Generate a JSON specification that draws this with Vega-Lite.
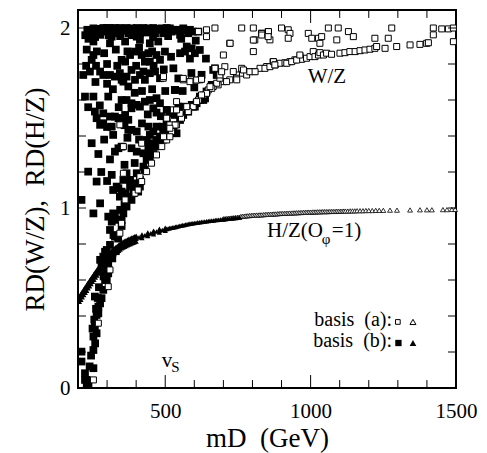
{
"$schema": "https://vega.github.io/schema/vega-lite/v6.json",
"width": 378, "height": 378,
"autosize": {"type": "none"},
"padding": {"left": 78, "top": 10, "right": 31, "bottom": 65},
"background": "white",
"config": {
 "view": {"stroke": "black", "strokeWidth": 2},
 "text": {"font": "Liberation Serif", "color": "black"}
},
"datasets": {
 "xminor": [{"m":300},{"m":400},{"m":600},{"m":700},{"m":800},{"m":900},{"m":1100},{"m":1200},{"m":1300},{"m":1400}],
 "xmajor": [{"m":500},{"m":1000}],
 "yticks": [{"r":0.2},{"r":0.4},{"r":0.6},{"r":0.8},{"r":1.0},{"r":1.2},{"r":1.4},{"r":1.6},{"r":1.8},{"r":2.0}],
 "filled": [
  {"m":247,"r":1.971},{"m":264,"r":1.98},{"m":287,"r":2.0},{"m":310,"r":2.0},{"m":327,"r":2.0},{"m":350,"r":1.99},{"m":367,"r":2.0},{"m":384,"r":1.998},{"m":402,"r":2.0},{"m":425,"r":2.0},{"m":442,"r":1.998},{"m":459,"r":2.0},{"m":482,"r":1.99},{"m":505,"r":2.0},{"m":522,"r":1.98},{"m":539,"r":1.99},{"m":562,"r":1.998},{"m":579,"r":1.971},{"m":276,"r":1.962},{"m":333,"r":1.971},{"m":413,"r":1.971},{"m":465,"r":1.971},{"m":493,"r":1.971},{"m":299,"r":1.98},{"m":373,"r":1.971},{"m":436,"r":1.975},{"m":551,"r":1.962},{"m":596,"r":1.98},{"m":614,"r":1.98},{"m":299,"r":2.0},{"m":344,"r":2.0},{"m":390,"r":1.98},{"m":453,"r":1.986},{"m":516,"r":1.998},{"m":253,"r":1.998},{"m":321,"r":1.993},{"m":419,"r":1.993},
  {"m":232,"r":1.99},{"m":270,"r":1.995},{"m":282,"r":1.985},{"m":293,"r":1.99},{"m":315,"r":1.985},{"m":338,"r":1.99},{"m":356,"r":1.985},{"m":361,"r":1.995},{"m":378,"r":1.99},{"m":396,"r":1.99},{"m":408,"r":1.985},{"m":430,"r":1.99},{"m":448,"r":1.99},{"m":470,"r":1.995},{"m":488,"r":1.998},{"m":498,"r":1.985},{"m":528,"r":1.99},{"m":545,"r":1.985},{"m":568,"r":1.985},{"m":585,"r":1.99},{"m":259,"r":1.95},{"m":305,"r":1.96},{"m":345,"r":1.955},{"m":385,"r":1.96},{"m":458,"r":1.95},{"m":510,"r":1.955},{"m":555,"r":1.94},{"m":605,"r":1.93},{"m":236,"r":1.94},{"m":225,"r":1.96},
  {"m":253,"r":1.925},{"m":310,"r":1.915},{"m":362,"r":1.925},{"m":413,"r":1.934},{"m":447,"r":1.915},{"m":476,"r":1.925},{"m":574,"r":1.897},{"m":591,"r":1.887},{"m":619,"r":1.878},{"m":316,"r":1.952},{"m":402,"r":1.952},
  {"m":253,"r":1.85},{"m":247,"r":1.823},{"m":379,"r":1.85},{"m":396,"r":1.869},{"m":419,"r":1.85},{"m":442,"r":1.86},{"m":470,"r":1.85},{"m":482,"r":1.823},{"m":350,"r":1.823},{"m":362,"r":1.813},{"m":447,"r":1.813},{"m":551,"r":1.86},{"m":602,"r":1.86},{"m":568,"r":1.869},{"m":499,"r":1.869},{"m":430,"r":1.813},
  {"m":230,"r":1.88},{"m":265,"r":1.87},{"m":290,"r":1.86},{"m":330,"r":1.88},{"m":370,"r":1.87},{"m":410,"r":1.89},{"m":455,"r":1.87},{"m":520,"r":1.84},{"m":585,"r":1.83},{"m":640,"r":1.83},{"m":228,"r":1.79},{"m":262,"r":1.79},{"m":300,"r":1.8},{"m":335,"r":1.79},{"m":400,"r":1.79},{"m":460,"r":1.79},{"m":495,"r":1.77},{"m":545,"r":1.72},{"m":590,"r":1.75},{"m":625,"r":1.74},{"m":260,"r":1.7},{"m":300,"r":1.69},{"m":320,"r":1.66},{"m":395,"r":1.64},{"m":420,"r":1.65},{"m":455,"r":1.66},{"m":500,"r":1.65},{"m":560,"r":1.65},{"m":600,"r":1.67},{"m":235,"r":1.56},{"m":275,"r":1.57},{"m":340,"r":1.56},{"m":440,"r":1.52},{"m":470,"r":1.53},{"m":485,"r":1.51},{"m":300,"r":1.45},{"m":360,"r":1.46},{"m":420,"r":1.47},{"m":410,"r":1.38},{"m":370,"r":1.39},{"m":290,"r":1.38},{"m":270,"r":1.3},{"m":310,"r":1.27},{"m":360,"r":1.24},{"m":395,"r":1.25},{"m":280,"r":1.2},{"m":300,"r":1.15},{"m":360,"r":1.02},{"m":345,"r":0.99},{"m":350,"r":0.9},{"m":338,"r":0.83},{"m":330,"r":0.76},{"m":318,"r":0.72},{"m":300,"r":0.68},{"m":288,"r":0.62},{"m":272,"r":0.56},{"m":268,"r":0.5},{"m":262,"r":0.44},{"m":256,"r":0.38},{"m":250,"r":0.33},{"m":245,"r":0.18},{"m":240,"r":0.12},
  {"m":241,"r":1.758},{"m":218,"r":1.739},{"m":276,"r":1.758},{"m":287,"r":1.739},{"m":310,"r":1.739},{"m":327,"r":1.73},{"m":344,"r":1.749},{"m":367,"r":1.73},{"m":384,"r":1.767},{"m":396,"r":1.712},{"m":413,"r":1.739},{"m":425,"r":1.758},{"m":447,"r":1.749},{"m":465,"r":1.758},{"m":482,"r":1.721},{"m":528,"r":1.776},{"m":671,"r":1.776},{"m":373,"r":1.675},{"m":350,"r":1.712},{"m":430,"r":1.712},{"m":356,"r":1.702},{"m":533,"r":1.656},{"m":677,"r":1.739},{"m":660,"r":1.684},
  {"m":224,"r":1.619},{"m":253,"r":1.619},{"m":304,"r":1.619},{"m":350,"r":1.6},{"m":367,"r":1.6},{"m":384,"r":1.582},{"m":402,"r":1.573},{"m":413,"r":1.563},{"m":430,"r":1.591},{"m":470,"r":1.61},{"m":482,"r":1.582},{"m":447,"r":1.6},{"m":459,"r":1.554},{"m":384,"r":1.554},{"m":642,"r":1.647},{"m":619,"r":1.619},{"m":631,"r":1.6},
  {"m":258,"r":1.536},{"m":264,"r":1.499},{"m":287,"r":1.526},{"m":310,"r":1.508},{"m":327,"r":1.508},{"m":350,"r":1.499},{"m":362,"r":1.517},{"m":373,"r":1.49},{"m":505,"r":1.545},{"m":516,"r":1.526},{"m":533,"r":1.517},{"m":505,"r":1.499},{"m":545,"r":1.563},{"m":562,"r":1.563},{"m":579,"r":1.545},{"m":596,"r":1.563},{"m":608,"r":1.582},{"m":591,"r":1.573},
  {"m":276,"r":1.462},{"m":287,"r":1.471},{"m":316,"r":1.452},{"m":321,"r":1.406},{"m":339,"r":1.499},{"m":373,"r":1.434},{"m":384,"r":1.434},{"m":402,"r":1.425},{"m":442,"r":1.452},{"m":459,"r":1.425},{"m":447,"r":1.406},{"m":470,"r":1.452},{"m":493,"r":1.452},{"m":505,"r":1.471},{"m":516,"r":1.434},{"m":528,"r":1.452},
  {"m":247,"r":1.36},{"m":327,"r":1.313},{"m":339,"r":1.332},{"m":350,"r":1.341},{"m":384,"r":1.332},{"m":402,"r":1.313},{"m":436,"r":1.378},{"m":442,"r":1.341},{"m":453,"r":1.36},{"m":465,"r":1.341},{"m":470,"r":1.378},{"m":482,"r":1.397},{"m":493,"r":1.415},{"m":425,"r":1.304},{"m":447,"r":1.313},{"m":459,"r":1.3},{"m":482,"r":1.35},{"m":493,"r":1.38},
  {"m":235,"r":1.202},{"m":264,"r":1.147},{"m":316,"r":1.184},{"m":333,"r":1.119},{"m":356,"r":1.156},{"m":367,"r":1.193},{"m":379,"r":1.156},{"m":390,"r":1.119},{"m":413,"r":1.156},{"m":425,"r":1.23},{"m":436,"r":1.267},{"m":447,"r":1.286},{"m":430,"r":1.212},{"m":402,"r":1.193},{"m":350,"r":1.091},{"m":367,"r":1.063},{"m":390,"r":1.082},{"m":407,"r":1.091},{"m":413,"r":1.119},
  {"m":665,"r":1.767},{"m":660,"r":1.683},{"m":637,"r":1.609},{"m":620,"r":1.6},{"m":602,"r":1.563},{"m":579,"r":1.535},{"m":562,"r":1.517},{"m":551,"r":1.489},{"m":545,"r":1.545},{"m":516,"r":1.535},{"m":534,"r":1.656},{"m":539,"r":1.415},{"m":522,"r":1.433},{"m":505,"r":1.452},
  {"m":212,"r":1.045},{"m":253,"r":0.97},{"m":276,"r":1.026},{"m":321,"r":1.1},{"m":339,"r":1.11},{"m":344,"r":1.063},{"m":362,"r":1.082},{"m":379,"r":1.12},{"m":396,"r":1.137},{"m":304,"r":0.952},{"m":321,"r":0.97},{"m":339,"r":0.934},{"m":367,"r":1.008},{"m":384,"r":1.045},{"m":356,"r":0.97},{"m":310,"r":0.878},{"m":327,"r":0.841},{"m":316,"r":0.924},{"m":327,"r":0.961},{"m":350,"r":0.933},{"m":310,"r":0.795},{"m":299,"r":0.767},{"m":322,"r":0.85},{"m":293,"r":0.757},{"m":276,"r":0.712},{"m":287,"r":0.73},{"m":304,"r":0.693},{"m":281,"r":0.674},{"m":304,"r":0.637},{"m":293,"r":0.637},{"m":293,"r":0.6},{"m":299,"r":0.6},{"m":287,"r":0.545},{"m":258,"r":0.508},{"m":281,"r":0.499},{"m":270,"r":0.452},{"m":264,"r":0.406},{"m":276,"r":0.47},{"m":270,"r":0.415},{"m":258,"r":0.341},{"m":264,"r":0.304},{"m":253,"r":0.286},{"m":259,"r":0.248},{"m":253,"r":0.211},{"m":253,"r":0.11},{"m":212,"r":0.202},{"m":212,"r":0.147},{"m":224,"r":0.045},{"m":230,"r":0.026},{"m":236,"r":0.026},{"m":224,"r":0.082},{"m":230,"r":0.045}
 ],
 "open": [
  {"m":642,"r":1.99},{"m":671,"r":2.0},{"m":763,"r":2.0},{"m":803,"r":2.0},{"m":831,"r":1.971},{"m":854,"r":1.98},{"m":860,"r":1.934},{"m":808,"r":1.934},{"m":803,"r":1.869},{"m":722,"r":1.915},{"m":700,"r":1.85},
  {"m":493,"r":1.721},{"m":562,"r":1.712},{"m":591,"r":1.712},{"m":619,"r":1.712},{"m":539,"r":1.591},{"m":528,"r":1.545},{"m":505,"r":1.499},{"m":516,"r":1.462},{"m":344,"r":1.462},{"m":356,"r":1.341},{"m":419,"r":1.36},{"m":356,"r":1.193},{"m":413,"r":1.174},{"m":396,"r":1.082},
  {"m":871,"r":1.813},{"m":849,"r":1.786},{"m":826,"r":1.776},{"m":803,"r":1.758},{"m":780,"r":1.758},{"m":763,"r":1.749},{"m":745,"r":1.739},{"m":722,"r":1.712},{"m":700,"r":1.702},{"m":682,"r":1.684},{"m":665,"r":1.675},{"m":648,"r":1.656},{"m":631,"r":1.628},{"m":614,"r":1.6},{"m":596,"r":1.563},{"m":579,"r":1.536},{"m":556,"r":1.499},{"m":539,"r":1.462},{"m":522,"r":1.425},{"m":505,"r":1.378},{"m":488,"r":1.341},{"m":470,"r":1.295},{"m":453,"r":1.249},{"m":436,"r":1.202},{"m":419,"r":1.147},{"m":407,"r":1.1},{"m":780,"r":1.739},{"m":745,"r":1.721},{"m":711,"r":1.702},{"m":677,"r":1.693},{"m":660,"r":1.665},{"m":688,"r":1.721},{"m":734,"r":1.758},{"m":763,"r":1.776},
  {"m":832,"r":1.97},{"m":855,"r":1.98},{"m":900,"r":2.0},{"m":923,"r":1.99},{"m":929,"r":1.97},{"m":923,"r":1.943},{"m":992,"r":1.97},{"m":1004,"r":1.943},{"m":1027,"r":1.943},{"m":1038,"r":1.952},{"m":1032,"r":1.915},{"m":1061,"r":2.0},{"m":1095,"r":2.0},{"m":1090,"r":1.934},{"m":1130,"r":1.98},{"m":1147,"r":1.952},{"m":1221,"r":1.943},{"m":1267,"r":1.943},{"m":1279,"r":2.0},{"m":1422,"r":2.0},{"m":1422,"r":1.962},{"m":1451,"r":1.995},{"m":1474,"r":1.995},{"m":1491,"r":2.0},{"m":1491,"r":1.924},
  {"m":843,"r":1.776},{"m":860,"r":1.785},{"m":872,"r":1.813},{"m":878,"r":1.795},{"m":895,"r":1.804},{"m":912,"r":1.807},{"m":929,"r":1.813},{"m":946,"r":1.823},{"m":964,"r":1.841},{"m":969,"r":1.826},{"m":986,"r":1.832},{"m":998,"r":1.841},{"m":1009,"r":1.869},{"m":1015,"r":1.841},{"m":1027,"r":1.85},{"m":1032,"r":1.863},{"m":1044,"r":1.85},{"m":1055,"r":1.86},{"m":1072,"r":1.854},{"m":1101,"r":1.86},{"m":1118,"r":1.863},{"m":1135,"r":1.869},{"m":1153,"r":1.869},{"m":1170,"r":1.874},{"m":1187,"r":1.878},{"m":1204,"r":1.882},{"m":1221,"r":1.887},{"m":1227,"r":1.897},{"m":1256,"r":1.887},{"m":1296,"r":1.897},{"m":1342,"r":1.906},{"m":1376,"r":1.909},{"m":1399,"r":1.915},{"m":1405,"r":1.918},
  {"m":723,"r":1.915},{"m":803,"r":1.933},{"m":832,"r":1.961},{"m":854,"r":1.952},{"m":642,"r":1.952},{"m":614,"r":1.98},{"m":562,"r":1.72},{"m":585,"r":1.702},{"m":608,"r":1.711},{"m":625,"r":1.715},{"m":494,"r":1.73},{"m":688,"r":1.739},{"m":705,"r":1.785},{"m":671,"r":1.776},{"m":694,"r":1.757},{"m":654,"r":1.674},{"m":642,"r":1.637},{"m":625,"r":1.628},{"m":608,"r":1.591},{"m":574,"r":1.563},{"m":551,"r":1.526},{"m":534,"r":1.461},{"m":516,"r":1.443},{"m":494,"r":1.396},{"m":516,"r":1.396},{"m":539,"r":1.545},{"m":746,"r":1.712},{"m":769,"r":1.767},{"m":791,"r":1.757},{"m":809,"r":1.757},{"m":877,"r":1.795},{"m":918,"r":1.804},{"m":935,"r":1.813},{"m":952,"r":1.822},{"m":963,"r":1.85},
  {"m":310,"r":0.656},{"m":304,"r":0.563},{"m":270,"r":0.36},{"m":253,"r":0.045},{"m":350,"r":0.915},{"m":344,"r":0.86},{"m":362,"r":1.045}
 ],
 "trif": [
  {"m":205,"r":0.495},{"m":210,"r":0.507},{"m":215,"r":0.52},{"m":220,"r":0.533},{"m":225,"r":0.545},{"m":230,"r":0.557},{"m":235,"r":0.57},{"m":240,"r":0.582},{"m":245,"r":0.594},{"m":250,"r":0.606},{"m":255,"r":0.618},{"m":260,"r":0.63},{"m":265,"r":0.641},{"m":270,"r":0.652},{"m":275,"r":0.664},{"m":280,"r":0.675},{"m":285,"r":0.686},{"m":290,"r":0.697},{"m":295,"r":0.708},{"m":300,"r":0.72},{"m":305,"r":0.73},{"m":310,"r":0.739},{"m":315,"r":0.746},{"m":320,"r":0.753},{"m":325,"r":0.76},{"m":330,"r":0.767},{"m":335,"r":0.773},{"m":340,"r":0.779},{"m":345,"r":0.786},{"m":350,"r":0.792},{"m":355,"r":0.797},{"m":360,"r":0.801},{"m":365,"r":0.805},{"m":370,"r":0.809},{"m":375,"r":0.813},{"m":380,"r":0.816},{"m":385,"r":0.82},{"m":390,"r":0.823},{"m":395,"r":0.827},{"m":400,"r":0.83},{"m":410,"r":0.837},{"m":420,"r":0.843},{"m":430,"r":0.849},{"m":440,"r":0.854},{"m":450,"r":0.859},{"m":460,"r":0.864},{"m":470,"r":0.869},{"m":480,"r":0.874},{"m":490,"r":0.878},{"m":500,"r":0.882},{"m":510,"r":0.886},{"m":520,"r":0.89},{"m":530,"r":0.893},{"m":540,"r":0.897},{"m":550,"r":0.901},{"m":560,"r":0.905},{"m":570,"r":0.908},{"m":580,"r":0.911},{"m":590,"r":0.914},{"m":600,"r":0.917},{"m":612,"r":0.92},{"m":624,"r":0.923},{"m":636,"r":0.925},{"m":648,"r":0.928},{"m":660,"r":0.93},{"m":672,"r":0.933},{"m":684,"r":0.935},{"m":696,"r":0.937},{"m":708,"r":0.939},{"m":720,"r":0.942},{"m":735,"r":0.944},{"m":750,"r":0.946},
  {"m":505,"r":0.884},{"m":515,"r":0.888},{"m":525,"r":0.891},{"m":535,"r":0.895},{"m":545,"r":0.899},{"m":555,"r":0.903},{"m":565,"r":0.906},{"m":575,"r":0.91},{"m":585,"r":0.913},{"m":595,"r":0.915},{"m":606,"r":0.918},{"m":618,"r":0.921},{"m":630,"r":0.924},{"m":642,"r":0.926},{"m":654,"r":0.929},{"m":666,"r":0.931},{"m":678,"r":0.934},{"m":690,"r":0.936},{"m":702,"r":0.938},{"m":714,"r":0.94},{"m":728,"r":0.943},{"m":742,"r":0.945},{"m":756,"r":0.947},
  {"m":205,"r":0.511},{"m":215,"r":0.536},{"m":225,"r":0.561},{"m":235,"r":0.586},{"m":245,"r":0.61},{"m":255,"r":0.634},{"m":265,"r":0.657},{"m":275,"r":0.68},{"m":285,"r":0.702},{"m":295,"r":0.724},{"m":305,"r":0.746},{"m":315,"r":0.762},{"m":325,"r":0.776},{"m":335,"r":0.789},{"m":345,"r":0.802},{"m":355,"r":0.813},{"m":365,"r":0.821},{"m":375,"r":0.829},{"m":385,"r":0.836},{"m":395,"r":0.843},
  {"m":210,"r":0.523},{"m":220,"r":0.549},{"m":230,"r":0.573},{"m":240,"r":0.598},{"m":250,"r":0.622},{"m":260,"r":0.646},{"m":270,"r":0.668},{"m":280,"r":0.691},{"m":290,"r":0.713},{"m":300,"r":0.736},{"m":310,"r":0.755},{"m":320,"r":0.769},{"m":330,"r":0.783},{"m":340,"r":0.795},{"m":350,"r":0.808},{"m":360,"r":0.817},{"m":370,"r":0.825},{"m":380,"r":0.832},{"m":390,"r":0.839},{"m":400,"r":0.846},
  {"m":205,"r":0.479},{"m":215,"r":0.504},{"m":225,"r":0.529},{"m":235,"r":0.554},{"m":245,"r":0.578},{"m":255,"r":0.602},{"m":265,"r":0.625},{"m":275,"r":0.648},{"m":285,"r":0.67},{"m":295,"r":0.692},{"m":305,"r":0.714},{"m":315,"r":0.73},{"m":325,"r":0.744},{"m":335,"r":0.757},{"m":345,"r":0.77},{"m":355,"r":0.781},{"m":365,"r":0.789},{"m":375,"r":0.797},{"m":385,"r":0.804},{"m":395,"r":0.811},
  {"m":210,"r":0.491},{"m":220,"r":0.517},{"m":230,"r":0.541},{"m":240,"r":0.566},{"m":250,"r":0.59},{"m":260,"r":0.614},{"m":270,"r":0.636},{"m":280,"r":0.659},{"m":290,"r":0.681},{"m":300,"r":0.704},{"m":310,"r":0.723},{"m":320,"r":0.737},{"m":330,"r":0.751},{"m":340,"r":0.763},{"m":350,"r":0.776},{"m":360,"r":0.785},{"m":370,"r":0.793},{"m":380,"r":0.8},{"m":390,"r":0.807},{"m":400,"r":0.814},
  {"m":420,"r":0.853},{"m":440,"r":0.864},{"m":460,"r":0.874},{"m":480,"r":0.884},{"m":500,"r":0.89},{"m":420,"r":0.833},{"m":440,"r":0.844},{"m":460,"r":0.854},{"m":480,"r":0.864},{"m":500,"r":0.874}
 ],
 "trio": [
  {"m":700,"r":0.94},{"m":706,"r":0.941},{"m":712,"r":0.942},{"m":718,"r":0.943},{"m":724,"r":0.944},{"m":730,"r":0.945},{"m":736,"r":0.946},{"m":742,"r":0.947},{"m":748,"r":0.948},{"m":754,"r":0.949},{"m":760,"r":0.953},{"m":766,"r":0.954},{"m":772,"r":0.955},{"m":778,"r":0.956},{"m":784,"r":0.957},{"m":790,"r":0.958},{"m":796,"r":0.959},{"m":802,"r":0.96},{"m":808,"r":0.96},{"m":814,"r":0.961},{"m":820,"r":0.961},{"m":826,"r":0.962},{"m":832,"r":0.962},{"m":838,"r":0.963},{"m":844,"r":0.964},{"m":850,"r":0.965},{"m":856,"r":0.965},{"m":862,"r":0.966},{"m":868,"r":0.966},{"m":874,"r":0.967},{"m":880,"r":0.967},{"m":886,"r":0.968},{"m":892,"r":0.969},{"m":898,"r":0.97},{"m":904,"r":0.97},{"m":910,"r":0.97},{"m":916,"r":0.971},{"m":922,"r":0.971},{"m":928,"r":0.972},{"m":934,"r":0.972},{"m":940,"r":0.973},{"m":946,"r":0.973},{"m":952,"r":0.974},{"m":958,"r":0.974},{"m":964,"r":0.975},{"m":970,"r":0.975},{"m":976,"r":0.976},{"m":982,"r":0.976},{"m":988,"r":0.977},{"m":994,"r":0.977},{"m":1000,"r":0.977},{"m":1006,"r":0.978},{"m":1012,"r":0.978},{"m":1018,"r":0.978},{"m":1024,"r":0.979},{"m":1030,"r":0.979},{"m":1036,"r":0.979},{"m":1042,"r":0.98},{"m":1048,"r":0.98},{"m":1054,"r":0.98},{"m":1060,"r":0.98},{"m":1066,"r":0.981},{"m":1072,"r":0.981},{"m":1078,"r":0.981},{"m":1084,"r":0.981},{"m":1090,"r":0.982},{"m":1096,"r":0.982},{"m":1102,"r":0.982},{"m":1108,"r":0.982},{"m":1114,"r":0.983},{"m":1120,"r":0.983},{"m":1128,"r":0.983},{"m":1136,"r":0.984},{"m":1144,"r":0.984},{"m":1152,"r":0.984},{"m":1160,"r":0.985},{"m":1170,"r":0.985},{"m":1180,"r":0.985},{"m":1190,"r":0.986},{"m":1200,"r":0.986},{"m":1212,"r":0.986},{"m":1224,"r":0.987},{"m":1236,"r":0.987},{"m":1250,"r":0.987},{"m":1273,"r":0.988},{"m":1297,"r":0.988},{"m":1342,"r":0.989},{"m":1376,"r":0.99},{"m":1400,"r":0.99},{"m":1417,"r":0.99},{"m":1455,"r":0.991},{"m":1469,"r":0.991},{"m":1486,"r":0.992},{"m":1497,"r":0.992}
 ]
},
"layer": [
 {"data": {"name": "filled"},
  "mark": {"type": "point", "shape": "square", "filled": true, "size": 60, "color": "black", "opacity": 1},
  "encoding": {
   "x": {"field": "m", "type": "quantitative", "scale": {"domain": [200, 1500], "nice": false, "zero": false},
    "axis": {"orient": "bottom", "grid": false, "domain": false, "ticks": false, "values": [200,300,400,500,600,700,800,900,1000,1100,1200,1300,1400,1500], "format": "d", "labelExpr": "datum.value % 500 === 0 ? datum.label : ''", "labelPadding": 12, "labelFlush": false, "labelOverlap": false, "labelFont": "Liberation Serif", "labelFontSize": 21, "labelColor": "black", "title": "mD\u00a0 (GeV)", "titleFont": "Liberation Serif", "titleFontSize": 27, "titleFontWeight": "normal", "titleColor": "black", "titlePadding": 4}},
   "y": {"field": "r", "type": "quantitative", "scale": {"domain": [0, 2.1], "nice": false, "zero": false},
    "axis": {"orient": "left", "grid": false, "domain": false, "ticks": false, "values": [0,0.2,0.4,0.6,0.8,1,1.2,1.4,1.6,1.8,2], "labelExpr": "(datum.value == 0 || datum.value == 1 || datum.value == 2) ? format(datum.value, 'd') : ''", "labelPadding": 8, "labelOverlap": false, "labelFlush": false, "labelFont": "Liberation Serif", "labelFontSize": 21, "labelColor": "black", "title": "RD(W/Z),\u00a0 RD(H/Z)", "titleFont": "Liberation Serif", "titleFontSize": 27, "titleFontWeight": "normal", "titleColor": "black", "titlePadding": 10}}
  }},
 {"data": {"name": "open"},
  "mark": {"type": "point", "shape": "square", "filled": true, "size": 36, "fill": "white", "stroke": "black", "strokeWidth": 1, "opacity": 1},
  "encoding": {
   "x": {"field": "m", "type": "quantitative", "scale": {"domain": [200, 1500], "nice": false, "zero": false}, "axis": null},
   "y": {"field": "r", "type": "quantitative", "scale": {"domain": [0, 2.1], "nice": false, "zero": false}, "axis": null}
  }},
 {"data": {"name": "trio"},
  "mark": {"type": "point", "shape": "triangle-up", "filled": true, "size": 24, "fill": "white", "stroke": "black", "strokeWidth": 0.8, "opacity": 1},
  "encoding": {
   "x": {"field": "m", "type": "quantitative", "scale": {"domain": [200, 1500], "nice": false, "zero": false}, "axis": null},
   "y": {"field": "r", "type": "quantitative", "scale": {"domain": [0, 2.1], "nice": false, "zero": false}, "axis": null}
  }},
 {"data": {"name": "trif"},
  "mark": {"type": "point", "shape": "triangle-up", "filled": true, "size": 28, "color": "black", "opacity": 1},
  "encoding": {
   "x": {"field": "m", "type": "quantitative", "scale": {"domain": [200, 1500], "nice": false, "zero": false}, "axis": null},
   "y": {"field": "r", "type": "quantitative", "scale": {"domain": [0, 2.1], "nice": false, "zero": false}, "axis": null}
  }},
 {"data": {"name": "xminor"}, "mark": {"type": "rule", "color": "black", "strokeWidth": 1},
  "encoding": {"x": {"field": "m", "type": "quantitative", "scale": {"domain": [200, 1500], "nice": false, "zero": false}, "axis": null}, "y": {"datum": 0, "type": "quantitative", "scale": {"domain": [0, 2.1], "nice": false, "zero": false}, "axis": null}, "y2": {"datum": 0.044}}},
 {"data": {"name": "xminor"}, "mark": {"type": "rule", "color": "black", "strokeWidth": 1},
  "encoding": {"x": {"field": "m", "type": "quantitative", "scale": {"domain": [200, 1500], "nice": false, "zero": false}, "axis": null}, "y": {"datum": 2.1, "type": "quantitative", "scale": {"domain": [0, 2.1], "nice": false, "zero": false}, "axis": null}, "y2": {"datum": 2.056}}},
 {"data": {"name": "xmajor"}, "mark": {"type": "rule", "color": "black", "strokeWidth": 1},
  "encoding": {"x": {"field": "m", "type": "quantitative", "scale": {"domain": [200, 1500], "nice": false, "zero": false}, "axis": null}, "y": {"datum": 0, "type": "quantitative", "scale": {"domain": [0, 2.1], "nice": false, "zero": false}, "axis": null}, "y2": {"datum": 0.072}}},
 {"data": {"name": "xmajor"}, "mark": {"type": "rule", "color": "black", "strokeWidth": 1},
  "encoding": {"x": {"field": "m", "type": "quantitative", "scale": {"domain": [200, 1500], "nice": false, "zero": false}, "axis": null}, "y": {"datum": 2.1, "type": "quantitative", "scale": {"domain": [0, 2.1], "nice": false, "zero": false}, "axis": null}, "y2": {"datum": 2.028}}},
 {"data": {"name": "yticks"}, "mark": {"type": "rule", "color": "black", "strokeWidth": 1},
  "encoding": {"y": {"field": "r", "type": "quantitative", "scale": {"domain": [0, 2.1], "nice": false, "zero": false}, "axis": null}, "x": {"datum": 200, "type": "quantitative", "scale": {"domain": [200, 1500], "nice": false, "zero": false}, "axis": null}, "x2": {"datum": 227.5}}},
 {"data": {"name": "yticks"}, "mark": {"type": "rule", "color": "black", "strokeWidth": 1},
  "encoding": {"y": {"field": "r", "type": "quantitative", "scale": {"domain": [0, 2.1], "nice": false, "zero": false}, "axis": null}, "x": {"datum": 1500, "type": "quantitative", "scale": {"domain": [200, 1500], "nice": false, "zero": false}, "axis": null}, "x2": {"datum": 1472.5}}},
 {"data": {"values": [{"m": 1056, "r": 1.694, "t": "W/Z"}, {"m": 506, "r": 0.117, "t": "v"}]},
  "mark": {"type": "text", "fontSize": 21, "align": "center", "baseline": "alphabetic", "color": "black"},
  "encoding": {
   "x": {"field": "m", "type": "quantitative", "scale": {"domain": [200, 1500], "nice": false, "zero": false}, "axis": null},
   "y": {"field": "r", "type": "quantitative", "scale": {"domain": [0, 2.1], "nice": false, "zero": false}, "axis": null},
   "text": {"field": "t"}
  }},
 {"data": {"values": [{"m": 535, "r": 0.09, "t": "S"}, {"m": 1053, "r": 0.8, "t": "φ"}]},
  "mark": {"type": "text", "fontSize": 15, "align": "center", "baseline": "alphabetic", "color": "black"},
  "encoding": {
   "x": {"field": "m", "type": "quantitative", "scale": {"domain": [200, 1500], "nice": false, "zero": false}, "axis": null},
   "y": {"field": "r", "type": "quantitative", "scale": {"domain": [0, 2.1], "nice": false, "zero": false}, "axis": null},
   "text": {"field": "t"}
  }},
 {"data": {"values": [{"m": 850, "r": 0.84, "t": "H/Z(O"}, {"m": 1073, "r": 0.84, "t": "=1)"}]},
  "mark": {"type": "text", "fontSize": 21, "align": "left", "baseline": "alphabetic", "color": "black"},
  "encoding": {
   "x": {"field": "m", "type": "quantitative", "scale": {"domain": [200, 1500], "nice": false, "zero": false}, "axis": null},
   "y": {"field": "r", "type": "quantitative", "scale": {"domain": [0, 2.1], "nice": false, "zero": false}, "axis": null},
   "text": {"field": "t"}
  }},
 {"data": {"values": [{"m": 1280, "r": 0.344, "t": "basis\u00a0\u00a0(a):"}, {"m": 1280, "r": 0.228, "t": "basis\u00a0\u00a0(b):"}]},
  "mark": {"type": "text", "fontSize": 20, "align": "right", "baseline": "alphabetic", "color": "black"},
  "encoding": {
   "x": {"field": "m", "type": "quantitative", "scale": {"domain": [200, 1500], "nice": false, "zero": false}, "axis": null},
   "y": {"field": "r", "type": "quantitative", "scale": {"domain": [0, 2.1], "nice": false, "zero": false}, "axis": null},
   "text": {"field": "t"}
  }},
 {"data": {"values": [{"m": 1300, "r": 0.367}]},
  "mark": {"type": "point", "shape": "square", "filled": true, "size": 22, "fill": "white", "stroke": "black", "strokeWidth": 1, "opacity": 1},
  "encoding": {
   "x": {"field": "m", "type": "quantitative", "scale": {"domain": [200, 1500], "nice": false, "zero": false}, "axis": null},
   "y": {"field": "r", "type": "quantitative", "scale": {"domain": [0, 2.1], "nice": false, "zero": false}, "axis": null}
  }},
 {"data": {"values": [{"m": 1352, "r": 0.367}]},
  "mark": {"type": "point", "shape": "triangle-up", "filled": true, "size": 36, "fill": "white", "stroke": "black", "strokeWidth": 1, "opacity": 1},
  "encoding": {
   "x": {"field": "m", "type": "quantitative", "scale": {"domain": [200, 1500], "nice": false, "zero": false}, "axis": null},
   "y": {"field": "r", "type": "quantitative", "scale": {"domain": [0, 2.1], "nice": false, "zero": false}, "axis": null}
  }},
 {"data": {"values": [{"m": 1302, "r": 0.25}]},
  "mark": {"type": "point", "shape": "square", "filled": true, "size": 40, "color": "black", "opacity": 1},
  "encoding": {
   "x": {"field": "m", "type": "quantitative", "scale": {"domain": [200, 1500], "nice": false, "zero": false}, "axis": null},
   "y": {"field": "r", "type": "quantitative", "scale": {"domain": [0, 2.1], "nice": false, "zero": false}, "axis": null}
  }},
 {"data": {"values": [{"m": 1352, "r": 0.25}]},
  "mark": {"type": "point", "shape": "triangle-up", "filled": true, "size": 45, "color": "black", "opacity": 1},
  "encoding": {
   "x": {"field": "m", "type": "quantitative", "scale": {"domain": [200, 1500], "nice": false, "zero": false}, "axis": null},
   "y": {"field": "r", "type": "quantitative", "scale": {"domain": [0, 2.1], "nice": false, "zero": false}, "axis": null}
  }}
],
"resolve": {"axis": {"x": "independent", "y": "independent"}}
}
